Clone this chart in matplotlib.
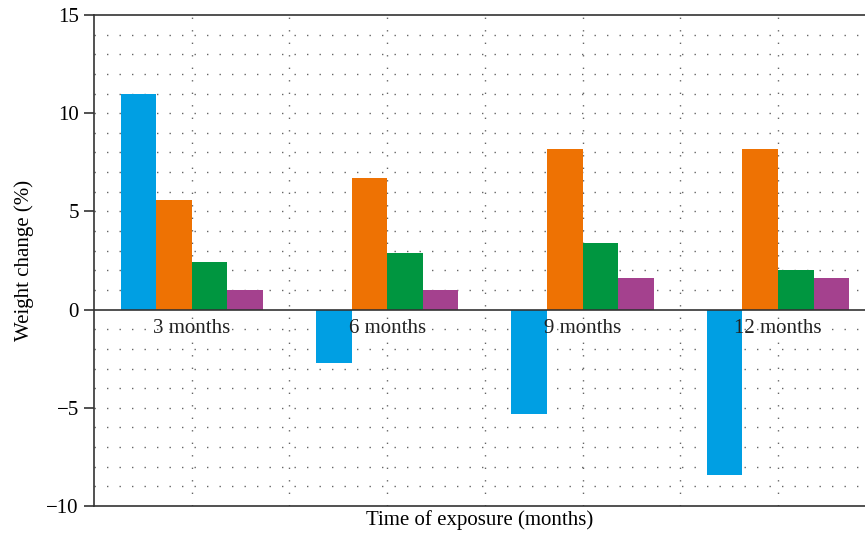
import numpy as np
import matplotlib.pyplot as plt
from matplotlib.ticker import MultipleLocator

# data
groups = ['3 months', '6 months', '9 months', '12 months']
s1 = [11.0, -2.7, -5.3, -8.4]   # blue
s2 = [5.6, 6.7, 8.2, 8.2]       # orange
s3 = [2.4, 2.9, 3.4, 2.0]       # green
s4 = [1.0, 1.0, 1.6, 1.6]       # purple
colors = ['#009FE3', '#EE7203', '#009640', '#A4418E']

plt.rcParams['font.family'] = ['Liberation Serif', 'DejaVu Serif']
plt.rcParams['font.size'] = 15

fig = plt.figure(figsize=(8.65, 5.4), dpi=100)
ax = fig.add_axes([94/865, 34/540, (865-94)/865, 491/540])

x = np.arange(len(groups))
w = 0.182
for k, (vals, c) in enumerate(zip([s1, s2, s3, s4], colors)):
    ax.bar(x + (k - 1.5)*w, vals, w, color=c, zorder=3, linewidth=0)

ax.set_xlim(-0.5, 3.445)
ax.set_ylim(-10, 15)
ax.yaxis.set_major_locator(MultipleLocator(5))
ax.set_yticks([-10, -5, 0, 5, 10, 15])
ax.set_yticklabels(['\u221210', '\u22125', '0', '5', '10', '15'])
ax.set_xticks([])

# dotted grid
for yv in range(-9, 15):
    if yv != 0:
        ax.axhline(yv, color='#666666', lw=1.0, linestyle=(0, (1, 8)), zorder=1)
for xv in np.arange(0, 3.01, 0.5):
    ax.axvline(xv, color='#666666', lw=1.0, linestyle=(0, (1, 8)), zorder=1)
ax.axhline(0, color='#333333', lw=1.2, zorder=4)

for xi, g in zip(x, groups):
    ax.text(xi, -0.97, g, ha='center', va='center', fontsize=15, color='#222222', zorder=5)

for s in ['left', 'bottom', 'top']:
    ax.spines[s].set_color('#333333')
    ax.spines[s].set_linewidth(1.2)
ax.spines['right'].set_visible(False)
ax.tick_params(axis='y', direction='out', length=7, width=1.2, color='#333333', pad=4, labelsize=15)

ax.set_ylabel('Weight change (%)', fontsize=15, labelpad=9)
ax.set_xlabel('Time of exposure (months)', fontsize=15, labelpad=3)

fig.savefig('out.png', dpi=100)
